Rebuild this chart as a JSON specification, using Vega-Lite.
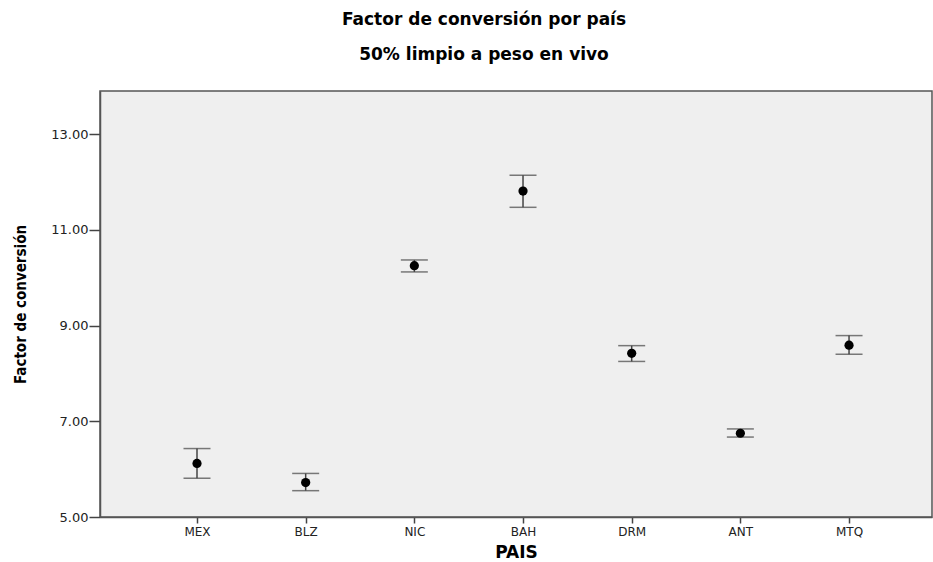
{
  "$schema": "https://vega.github.io/schema/vega-lite/v6.json",
  "autosize": {"type": "none"},
  "width": 832,
  "height": 426,
  "padding": {"left": 100, "top": 91, "right": 1, "bottom": 45},
  "background": "white",
  "title": {
    "text": "Factor de conversión por país",
    "subtitle": "50% limpio a peso en vivo",
    "font": "DejaVu Sans",
    "fontSize": 17,
    "fontWeight": "bold",
    "color": "black",
    "subtitleFont": "DejaVu Sans",
    "subtitleFontSize": 17,
    "subtitleFontWeight": "bold",
    "subtitleColor": "black",
    "subtitlePadding": 18,
    "anchor": "middle",
    "frame": "group",
    "dx": -32,
    "offset": 27
  },
  "data": {
    "values": [
      {"PAIS": "MEX", "media": 6.12, "inferior": 5.81, "superior": 6.43},
      {"PAIS": "BLZ", "media": 5.72, "inferior": 5.55, "superior": 5.91},
      {"PAIS": "NIC", "media": 10.25, "inferior": 10.12, "superior": 10.37},
      {"PAIS": "BAH", "media": 11.81, "inferior": 11.47, "superior": 12.14},
      {"PAIS": "DRM", "media": 8.42, "inferior": 8.25, "superior": 8.58},
      {"PAIS": "ANT", "media": 6.75, "inferior": 6.67, "superior": 6.84},
      {"PAIS": "MTQ", "media": 8.59, "inferior": 8.40, "superior": 8.79}
    ]
  },
  "encoding": {
    "x": {
      "field": "PAIS",
      "type": "nominal",
      "sort": null,
      "scale": {"type": "point", "padding": 0.828, "align": 0.539},
      "axis": {
        "title": "PAIS",
        "titleFont": "DejaVu Sans",
        "titleFontSize": 17,
        "titleFontWeight": "bold",
        "titleColor": "black",
        "titlePadding": 7,
        "labelFont": "DejaVu Sans",
        "labelFontSize": 12,
        "labelColor": "#222",
        "labelAngle": 0,
        "labelPadding": 3,
        "tickSize": 6,
        "tickColor": "#444",
        "tickWidth": 1.5,
        "domainColor": "#555",
        "domainWidth": 1.5,
        "grid": false
      }
    }
  },
  "layer": [
    {
      "mark": {"type": "rule", "color": "#444", "strokeWidth": 1.5},
      "encoding": {
        "y": {
          "field": "inferior",
          "type": "quantitative",
          "scale": {"domain": [5, 13.9], "nice": false, "zero": false},
          "axis": {
            "title": "Factor de conversión",
            "titleFont": "'DejaVu Sans Condensed', 'Liberation Sans'",
            "titleFontSize": 15,
            "titleFontWeight": "bold",
            "titleColor": "black",
            "titlePadding": 22,
            "values": [5, 7, 9, 11, 13],
            "format": ".2f",
            "labelFont": "DejaVu Sans",
            "labelFontSize": 13,
            "labelColor": "#222",
            "labelPadding": 1,
            "tickSize": 11,
            "tickColor": "#444",
            "tickWidth": 1.5,
            "domainColor": "#555",
            "domainWidth": 1.5,
            "grid": false
          }
        },
        "y2": {"field": "superior"}
      }
    },
    {
      "mark": {"type": "tick", "color": "#444", "size": 27, "thickness": 1.5, "orient": "horizontal"},
      "encoding": {"y": {"field": "inferior", "type": "quantitative"}}
    },
    {
      "mark": {"type": "tick", "color": "#444", "size": 27, "thickness": 1.5, "orient": "horizontal"},
      "encoding": {"y": {"field": "superior", "type": "quantitative"}}
    },
    {
      "mark": {"type": "point", "filled": true, "color": "black", "opacity": 1, "size": 85, "shape": "circle"},
      "encoding": {"y": {"field": "media", "type": "quantitative"}}
    }
  ],
  "config": {
    "view": {"fill": "#efefef", "stroke": "#555", "strokeWidth": 1.5}
  }
}
